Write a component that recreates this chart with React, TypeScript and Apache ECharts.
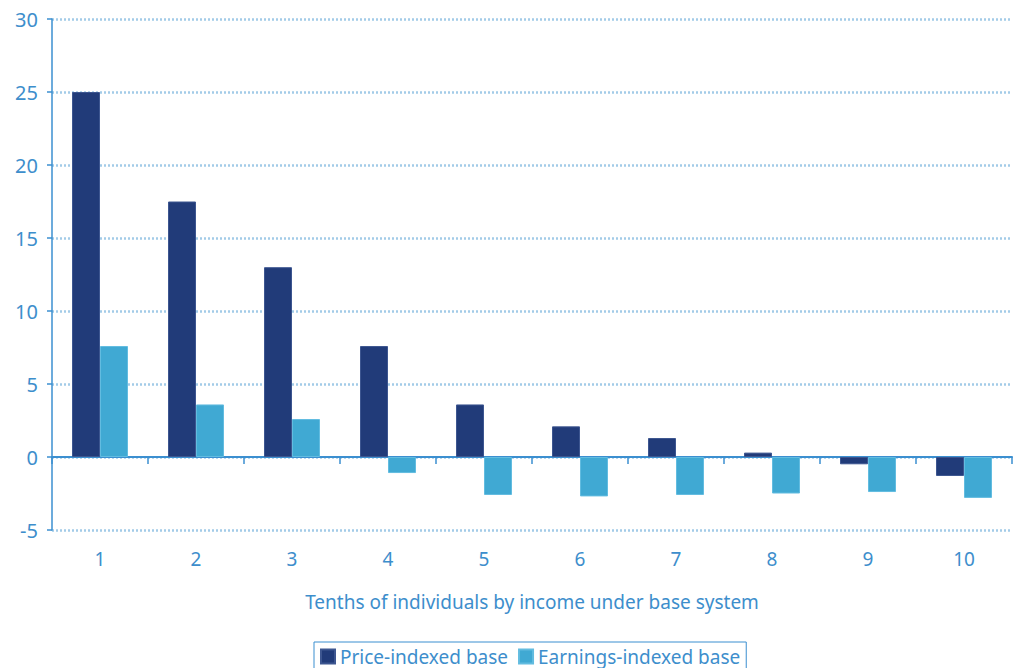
import React, { useEffect, useRef } from "react";
import * as echarts from "echarts";

const categories = ["1", "2", "3", "4", "5", "6", "7", "8", "9", "10"];
const priceIndexed = [25.0, 17.5, 13.0, 7.6, 3.6, 2.1, 1.3, 0.3, -0.5, -1.3];
const earningsIndexed = [7.6, 3.6, 2.6, -1.1, -2.6, -2.7, -2.6, -2.5, -2.4, -2.8];

const FONT = "'Noto Sans', sans-serif";
const TEXT_BLUE = "#3d8ecc";
const AXIS_BLUE = "#3b8fd0";

export default function App() {
  const ref = useRef<HTMLDivElement>(null);

  useEffect(() => {
    if (!ref.current) return;
    const chart = echarts.init(ref.current, undefined, { renderer: "svg" });
    chart.setOption({
      animation: false,
      textStyle: { fontFamily: FONT },
      grid: { left: 52, right: 5, top: 19, bottom: 138, containLabel: false },
      legend: {
        bottom: -8,
        left: 314,
        icon: "rect",
        itemWidth: 14,
        itemHeight: 14,
        itemGap: 10,
        borderColor: AXIS_BLUE,
        borderWidth: 1,
        padding: [5, 6, 10, 6],
        textStyle: { color: TEXT_BLUE, fontSize: 19, fontFamily: FONT },
        data: ["Price-indexed base", "Earnings-indexed base"],
      },
      xAxis: [
        {
          type: "category",
          data: categories,
          axisLine: { onZero: true, lineStyle: { color: AXIS_BLUE, width: 2 } },
          axisTick: { show: true, length: 7, lineStyle: { color: AXIS_BLUE, width: 1.5 } },
          axisLabel: { show: false },
        },
        {
          type: "category",
          data: categories,
          position: "bottom",
          axisLine: { show: false, onZero: false },
          axisTick: { show: false },
          axisLabel: { color: TEXT_BLUE, fontSize: 19, margin: 19 },
          name: "Tenths of individuals by income under base system",
          nameLocation: "middle",
          nameGap: 62,
          nameTextStyle: { color: TEXT_BLUE, fontSize: 19 },
        },
      ],
      yAxis: {
        type: "value",
        min: -5,
        max: 30,
        interval: 5,
        axisLine: { show: true, lineStyle: { color: AXIS_BLUE, width: 1.5 } },
        axisTick: { show: true, length: 5, lineStyle: { color: AXIS_BLUE, width: 1.5 } },
        axisLabel: { color: TEXT_BLUE, fontSize: 20, margin: 14 },
        splitLine: {
          show: true,
          lineStyle: { color: "#a3cbe8", width: 2.5, type: [2, 2] },
        },
      },
      series: [
        {
          name: "Price-indexed base",
          type: "bar",
          xAxisIndex: 0,
          data: priceIndexed,
          barWidth: 28,
          barGap: "0%",
          itemStyle: { color: "#213b79", borderColor: "#3d5690", borderWidth: 1 },
        },
        {
          name: "Earnings-indexed base",
          type: "bar",
          xAxisIndex: 0,
          data: earningsIndexed,
          barWidth: 28,
          barGap: "0%",
          itemStyle: { color: "#40a9d3", borderColor: "#62bce0", borderWidth: 1 },
        },
      ],
    });
    return () => chart.dispose();
  }, []);

  return <div ref={ref} style={{ width: 1017, height: 668, position: "absolute", left: 0, top: 0 }} />;
}
